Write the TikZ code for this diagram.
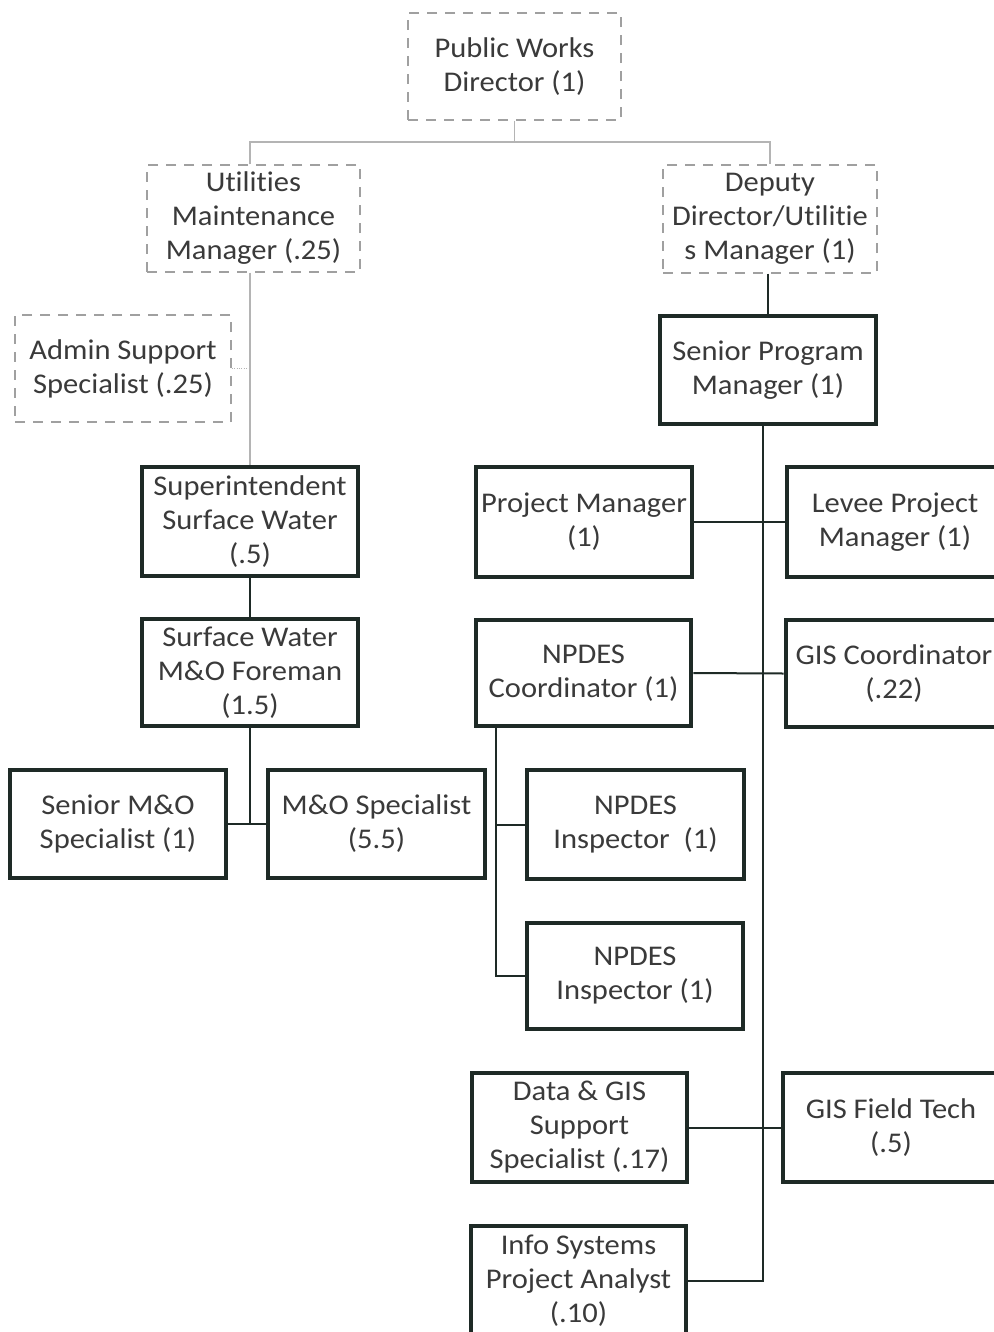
\documentclass[tikz,border=0pt]{standalone}
\usepackage{fontspec}
\setmainfont{Carlito}[FakeStretch=1.07,Ligatures={NoCommon,NoContextual}]
\definecolor{txt}{HTML}{3A3A3A}
\definecolor{dashgray}{HTML}{A0A0A0}
\definecolor{linegray}{HTML}{B4B4B4}
\definecolor{dark}{HTML}{1E2A26}
\begin{document}
\begin{tikzpicture}[x=0.75pt,y=-0.75pt,
  base/.style={align=center, inner sep=0pt, text=txt, font=\fontsize{21.4pt}{25.5pt}\selectfont},
  dashbox/.style={base, draw=dashgray, line width=1.1pt, dash pattern=on 7.5pt off 6pt},
  solidbox/.style={base, draw=dark, line width=3.5pt},
  conn/.style={draw=dark, line width=1.5pt},
  lightconn/.style={draw=linegray, line width=1.2pt},
  dotconn/.style={draw=linegray, line width=0.8pt, densely dotted},
]
\useasboundingbox (0,0) rectangle (994,1332);
\clip (0,0) rectangle (994,1332);
\fill[white] (0,0) rectangle (994,1332);

% dashed boxes
\node[dashbox, minimum width=159.75pt, minimum height=80.25pt] (pwd) at (514.5,66.5) {Public Works\\Director (1)};
\node[dashbox, minimum width=159.75pt, minimum height=80.25pt] (umm) at (253.5,218.5) {Utilities\\Maintenance\\Manager (.25)};
\node[dashbox, minimum width=160.5pt, minimum height=81pt] (ddm) at (770,219) {Deputy\\Director/Utilitie\\s Manager (1)};
\node[dashbox, minimum width=162pt, minimum height=80.25pt] (admin) at (123,368.5) {Admin Support\\Specialist (.25)};

% solid boxes
\node[solidbox, minimum width=162pt, minimum height=81pt] (spm) at (768,370) {Senior Program\\Manager (1)};
\node[solidbox, minimum width=162pt, minimum height=81.75pt] (sup) at (250,521.5) {Superintendent\\Surface Water\\(.5)};
\node[solidbox, minimum width=162pt, minimum height=80.25pt] (fore) at (250,672.5) {Surface Water\\M\&O Foreman\\(1.5)};
\node[solidbox, minimum width=162pt, minimum height=81pt] (smo) at (118,824) {Senior M\&O\\Specialist (1)};
\node[solidbox, minimum width=162.75pt, minimum height=81pt] (mos) at (376.5,824) {M\&O Specialist\\(5.5)};
\node[solidbox, minimum width=162pt, minimum height=82.5pt] (pm) at (584,522) {Project Manager\\(1)};
\node[solidbox, minimum width=162pt, minimum height=82.5pt] (levee) at (895,522) {Levee Project\\Manager (1)};
\node[solidbox, minimum width=161.25pt, minimum height=79.5pt] (npc) at (583.5,673) {NPDES\\Coordinator (1)};
\node[solidbox, minimum width=162pt, minimum height=80.25pt] (gisc) at (894,673.5) {GIS Coordinator\\(.22)};
\node[solidbox, minimum width=162.75pt, minimum height=81.75pt] (npi1) at (635.5,824.5) {NPDES\\Inspector~~(1)};
\node[solidbox, minimum width=162pt, minimum height=79.5pt] (npi2) at (635,976) {NPDES\\Inspector (1)};
\node[solidbox, minimum width=161.25pt, minimum height=81.75pt] (dgs) at (579.5,1127.5) {Data \& GIS\\Support\\Specialist (.17)};
\node[solidbox, minimum width=162pt, minimum height=81.75pt] (gft) at (891,1127.5) {GIS Field Tech\\(.5)};
\node[solidbox, minimum width=161.25pt, minimum height=82.5pt] (isa) at (578.5,1281) {Info Systems\\Project Analyst\\(.10)};

% helper coordinates
\coordinate (topbar) at (0,142);
\coordinate (spinex) at (763,0);
\coordinate (npx) at (496,0);

% top-level connectors
\draw[lightconn] (pwd.south) -- (pwd.south |- topbar);
\draw[lightconn] (umm.north -| sup.north) -- (sup.north |- topbar) -- (ddm.north |- topbar) -- (ddm.north);
\draw[lightconn] (umm.south -| sup.north) -- (sup.north);
\draw[dotconn] (admin.east) -- (admin.east -| sup.north);
\draw[conn] (spm.north |- ddm.south) -- (spm.north);

% left branch
\draw[conn] (sup.south) -- (fore.north);
\draw[conn] (fore.south) -- (fore.south |- smo.east);
\draw[conn] (smo.east) -- (mos.west);

% right spine
\draw[conn] (spm.south -| spinex) -- (isa.east -| spinex) -- (isa.east);
\draw[conn] (pm.east) -- (levee.west);
\draw[conn] (npc.east) -- (gisc.west);
\draw[conn] (dgs.east) -- (gft.west);

% NPDES branch
\draw[conn] (npc.south -| npx) |- (npi2.west);
\draw[conn] (npi1.west) -- (npi1.west -| npx);
\end{tikzpicture}
\end{document}
